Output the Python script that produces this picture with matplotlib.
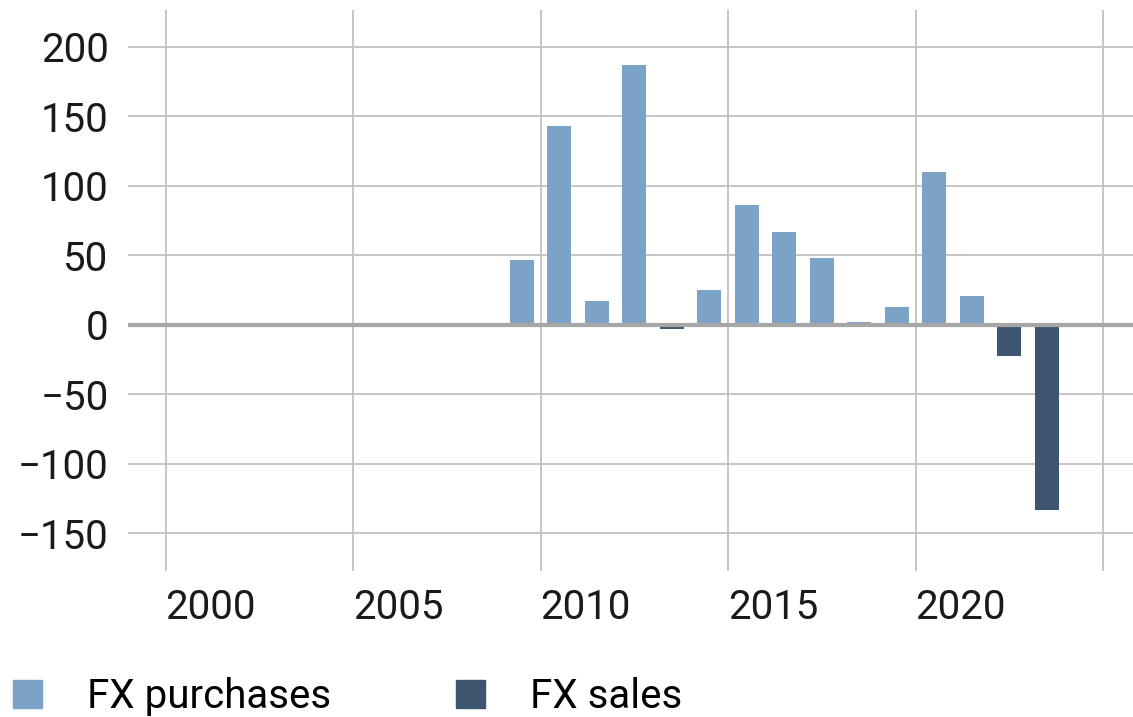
import numpy as np
import matplotlib.pyplot as plt
from matplotlib.patches import Patch

# FX interventions per year (bars drawn mid-year)
years = [2009, 2010, 2011, 2012, 2013, 2014, 2015, 2016, 2017, 2018, 2019, 2020, 2021, 2022, 2023]
values = [47, 143, 17, 187, -3, 25, 86, 67, 48, 2, 13, 110, 21, -22, -133]
x_ticks = [2000, 2005, 2010, 2015, 2020, 2025]
x_labels = ["2000", "2005", "2010", "2015", "2020", ""]
y_ticks = [-150, -100, -50, 0, 50, 100, 150, 200]

light = "#7ba3c8"
dark = "#3e5570"

plt.rcParams['font.family'] = ['Roboto', 'DejaVu Sans']

fig = plt.figure(figsize=(11.33, 7.17), dpi=100)
ax = fig.add_axes([128/1133, 1 - 571/717, 1 - 128/1133, (571 - 10)/717])

colors = [light if v >= 0 else dark for v in values]
ax.bar(np.array(years) + 0.5, values, width=0.63, color=colors, zorder=3)

ax.axhline(0, color="#a6a6a6", lw=3, zorder=4)
ax.set_xlim(1999.0, 2025.8)
ax.set_ylim(-177, 226.6)
ax.set_xticks(x_ticks)
ax.set_xticklabels(x_labels, ha="left")
ax.set_yticks(y_ticks)
ax.set_yticklabels([str(t).replace("-", "\u2212") for t in y_ticks])
ax.grid(True, color="#c0c0c0", lw=1.3, zorder=0)
for s in ax.spines.values():
    s.set_visible(False)
ax.tick_params(length=0, labelsize=29, colors="#1a1a1a")
ax.tick_params(axis="x", pad=12)
ax.tick_params(axis="y", pad=14)

handles = [Patch(color=light, label="FX purchases"), Patch(color=dark, label="FX sales")]
fig.legend(handles=handles, loc="lower left", bbox_to_anchor=(13/1133, 1/717), ncol=2,
           frameon=False, handlelength=0.72, handleheight=0.72,
           handletextpad=1.12, columnspacing=3.1, borderpad=0, borderaxespad=0,
           prop={'size': 29})

fig.savefig("out.png", dpi=100)
